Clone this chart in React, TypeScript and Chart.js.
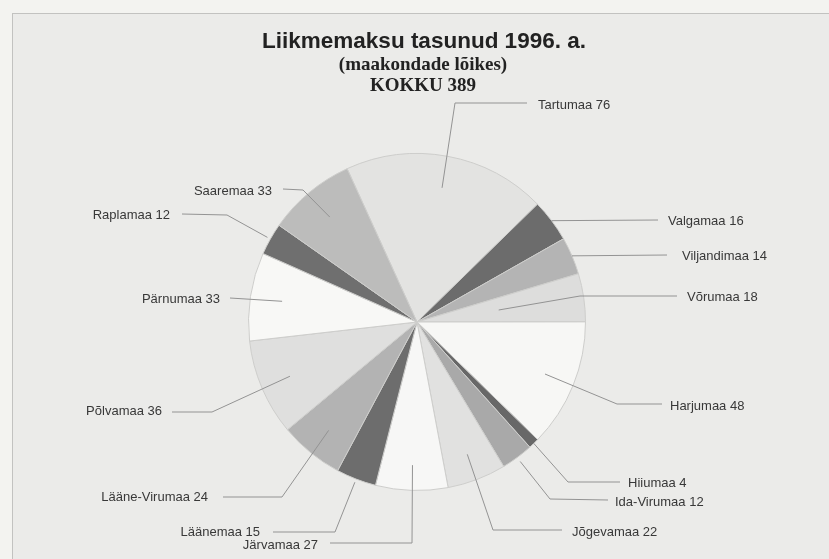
import React, { useEffect, useRef } from "react";
import { Chart, registerables } from "chart.js";

Chart.register(...registerables);

const TITLE = "Liikmemaksu tasunud 1996. a.";
const SUBTITLE = "(maakondade lõikes)";
const TOTAL_LINE = "KOKKU 389";

const counties = [
  "Tartumaa", "Valgamaa", "Viljandimaa", "Võrumaa", "Harjumaa", "Hiiumaa", "Ida-Virumaa",
  "Jõgevamaa", "Järvamaa", "Läänemaa", "Lääne-Virumaa", "Põlvamaa", "Pärnumaa", "Raplamaa", "Saaremaa",
];
const members = [76, 16, 14, 18, 48, 4, 12, 22, 27, 15, 24, 36, 33, 12, 33];
const sliceColors = [
  "#e3e3e1", "#6c6c6c", "#b4b4b4", "#dddddc", "#f7f7f5", "#686868", "#a9a9a9",
  "#e1e1e0", "#f7f7f6", "#6d6d6d", "#b3b3b3", "#dfdfde", "#f8f8f6", "#6f6f6f", "#bcbcbb",
];

// Leader-line / label layout (annotation placement only)
type LabelPos = { r: number; elbow: number[] | null; end: number[]; text: number[]; align: CanvasTextAlign };
const labelLayout: LabelPos[] = [
  { r: 0.81, elbow: [455, 103], end: [527, 103], text: [538, 105], align: "left" },
  { r: 1.0, elbow: null, end: [658, 220], text: [668, 221], align: "left" },
  { r: 1.0, elbow: null, end: [667, 255], text: [682, 256], align: "left" },
  { r: 0.49, elbow: [580, 296], end: [677, 296], text: [687, 297], align: "left" },
  { r: 0.82, elbow: [617, 404], end: [662, 404], text: [670, 406], align: "left" },
  { r: 1.0, elbow: [568, 482], end: [620, 482], text: [628, 483], align: "left" },
  { r: 1.03, elbow: [550, 499], end: [608, 500], text: [615, 502], align: "left" },
  { r: 0.84, elbow: [493, 530], end: [562, 530], text: [572, 532], align: "left" },
  { r: 0.85, elbow: [412, 543], end: [330, 543], text: [318, 545], align: "right" },
  { r: 1.02, elbow: [335, 532], end: [273, 532], text: [260, 532], align: "right" },
  { r: 0.83, elbow: [282, 497], end: [223, 497], text: [208, 497], align: "right" },
  { r: 0.82, elbow: [212, 412], end: [172, 412], text: [162, 411], align: "right" },
  { r: 0.81, elbow: null, end: [230, 298], text: [220, 299], align: "right" },
  { r: 1.02, elbow: [227, 215], end: [182, 214], text: [170, 215], align: "right" },
  { r: 0.81, elbow: [303, 190], end: [283, 189], text: [272, 191], align: "right" },
];

const annotatePlugin = {
  id: "annotate",
  afterDraw(chart: any) {
    const ctx: CanvasRenderingContext2D = chart.ctx;
    ctx.save();
    // titles
    ctx.fillStyle = "#222";
    ctx.textAlign = "center";
    ctx.textBaseline = "middle";
    ctx.font = "bold 22.5px 'Liberation Sans', Arial, sans-serif";
    ctx.fillText(TITLE, 424, 42);
    ctx.font = "bold 19px 'Liberation Serif', 'Times New Roman', serif";
    ctx.fillText(SUBTITLE, 423, 65);
    ctx.fillText(TOTAL_LINE, 423, 86);

    // leader lines + labels
    const meta = chart.getDatasetMeta(0);
    ctx.font = "13px 'Liberation Sans', Arial, sans-serif";
    meta.data.forEach((arc: any, i: number) => {
      const lay = labelLayout[i];
      if (!lay) return;
      const mid = (arc.startAngle + arc.endAngle) / 2;
      const sx = arc.x + Math.cos(mid) * arc.outerRadius * lay.r;
      const sy = arc.y + Math.sin(mid) * arc.outerRadius * lay.r;
      ctx.strokeStyle = "#939393";
      ctx.lineWidth = 1;
      ctx.beginPath();
      ctx.moveTo(sx, sy);
      if (lay.elbow) ctx.lineTo(lay.elbow[0], lay.elbow[1]);
      ctx.lineTo(lay.end[0], lay.end[1]);
      ctx.stroke();
      ctx.fillStyle = "#383838";
      ctx.textAlign = lay.align;
      ctx.textBaseline = "middle";
      ctx.fillText(`${counties[i]} ${members[i]}`, lay.text[0], lay.text[1]);
    });
    ctx.restore();
  },
};

export default function App() {
  const ref = useRef<HTMLCanvasElement>(null);
  useEffect(() => {
    document.body.style.margin = "0";
    const chart = new Chart(ref.current as HTMLCanvasElement, {
      type: "pie",
      data: {
        labels: counties,
        datasets: [
          {
            data: members,
            backgroundColor: sliceColors,
            borderColor: "#cdcdcb",
            borderWidth: 1,
          },
        ],
      },
      options: {
        responsive: false,
        animation: false,
        rotation: -24.5,
        layout: { padding: { left: 248, right: 243, top: 153, bottom: 68 } },
        plugins: { legend: { display: false }, tooltip: { enabled: false } },
      },
      plugins: [annotatePlugin],
    });
    return () => chart.destroy();
  }, []);
  return (
    <div style={{ position: "fixed", left: 0, top: 0, width: 829, height: 559, background: "#f3f3f0" }}>
      <div
        style={{
          position: "absolute",
          left: 12,
          top: 13,
          right: 0,
          bottom: 0,
          background: "#ebebe9",
          borderLeft: "1px solid #c2c2c0",
          borderTop: "1px solid #c2c2c0",
        }}
      />
      <canvas ref={ref} width={829} height={559} style={{ position: "absolute", left: 0, top: 0 }} />
    </div>
  );
}
